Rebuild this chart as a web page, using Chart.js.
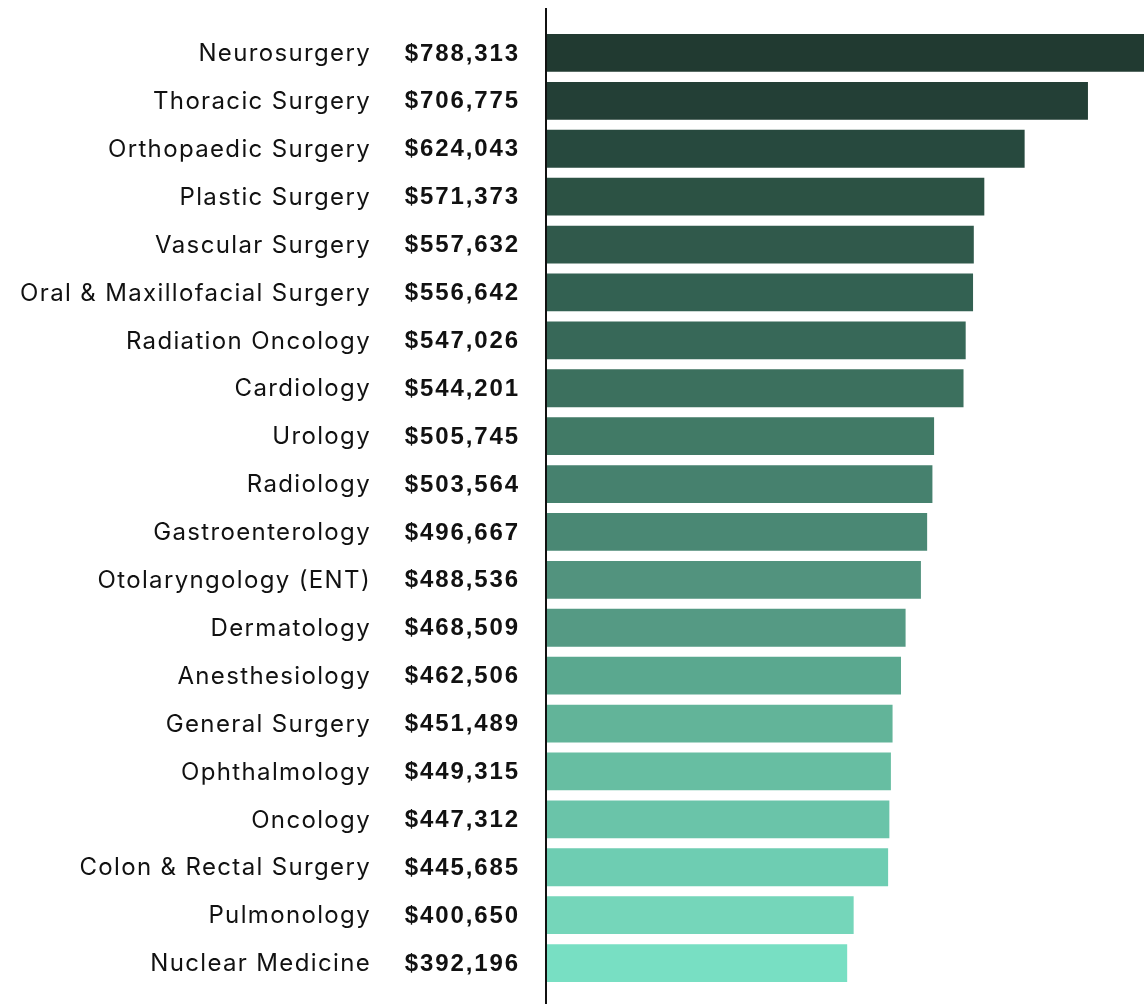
<!DOCTYPE html>
<html>
<head>
<meta charset="utf-8">
<script src="https://cdn.jsdelivr.net/npm/chart.js@4/dist/chart.umd.min.js"></script>
<style>
  html, body { margin: 0; padding: 0; background: #fff; }
  #wrap { width: 1144px; height: 1004px; position: relative; }
</style>
</head>
<body>
<div id="wrap"><canvas id="chart"></canvas></div>
<script>
// specialties, top to bottom
const specialties = [
  "Neurosurgery", "Thoracic Surgery", "Orthopaedic Surgery", "Plastic Surgery",
  "Vascular Surgery", "Oral & Maxillofacial Surgery", "Radiation Oncology", "Cardiology",
  "Urology", "Radiology", "Gastroenterology", "Otolaryngology (ENT)",
  "Dermatology", "Anesthesiology", "General Surgery", "Ophthalmology",
  "Oncology", "Colon & Rectal Surgery", "Pulmonology", "Nuclear Medicine"
];

// average compensation (USD)
const salaries = [
  788313, 706775, 624043, 571373,
  557632, 556642, 547026, 544201,
  505745, 503564, 496667, 488536,
  468509, 462506, 451489, 449315,
  447312, 445685, 400650, 392196
];

// dark green -> mint, one per bar
const barColors = [
  "#213a31", "#233f36", "#27493e", "#2c5244",
  "#30594b", "#336152", "#376858", "#3c705e",
  "#417a66", "#46816e", "#4a8874", "#52937e",
  "#559a84", "#5aa88f", "#62b499", "#67bea2",
  "#6ac4a9", "#6ecdb2", "#75d6ba", "#78dfc3"
];

const xMax = 780000; // longest bar runs off the right edge

const fmt = v => "$" + v.toLocaleString("en-US");

// two text columns (name, bold value) + the tall axis line
const labelColumns = {
  id: "labelColumns",
  afterDraw(chart) {
    const ctx = chart.ctx;
    const y = chart.scales.y;
    const left = chart.chartArea.left;
    ctx.save();
    ctx.fillStyle = "#111111";
    ctx.textAlign = "right";
    ctx.textBaseline = "middle";

    ctx.font = "24px Inter, 'DejaVu Sans', sans-serif";
    ctx.letterSpacing = "1.35px";
    specialties.forEach((name, i) => {
      ctx.fillText(name, left - 176, y.getPixelForValue(i) + 1);
    });

    ctx.font = "bold 24px 'Liberation Sans', Arial, sans-serif";
    ctx.letterSpacing = "1.9px";
    salaries.forEach((v, i) => {
      ctx.fillText(fmt(v), left - 27, y.getPixelForValue(i) + 1);
    });

    ctx.letterSpacing = "0px";
    ctx.strokeStyle = "#111111";
    ctx.lineWidth = 2;
    ctx.beginPath();
    ctx.moveTo(left - 1, 8);
    ctx.lineTo(left - 1, chart.height);
    ctx.stroke();
    ctx.restore();
  }
};

new Chart(document.getElementById("chart"), {
  type: "bar",
  data: {
    labels: specialties,
    datasets: [{
      data: salaries,
      backgroundColor: barColors,
      borderWidth: 0,
      barPercentage: 0.79,
      categoryPercentage: 1.0
    }]
  },
  options: {
    indexAxis: "y",
    responsive: true,
    maintainAspectRatio: false,
    animation: false,
    layout: { padding: { top: 29, bottom: 17, left: 0, right: 0 } },
    plugins: {
      legend: { display: false },
      tooltip: { enabled: false }
    },
    scales: {
      x: {
        display: false,
        min: 0,
        max: xMax
      },
      y: {
        grid: { display: false, drawTicks: false },
        border: { display: false },
        afterFit(scale) { scale.width = 547; },
        ticks: { display: false }
      }
    }
  },
  plugins: [labelColumns]
});
</script>
</body>
</html>
